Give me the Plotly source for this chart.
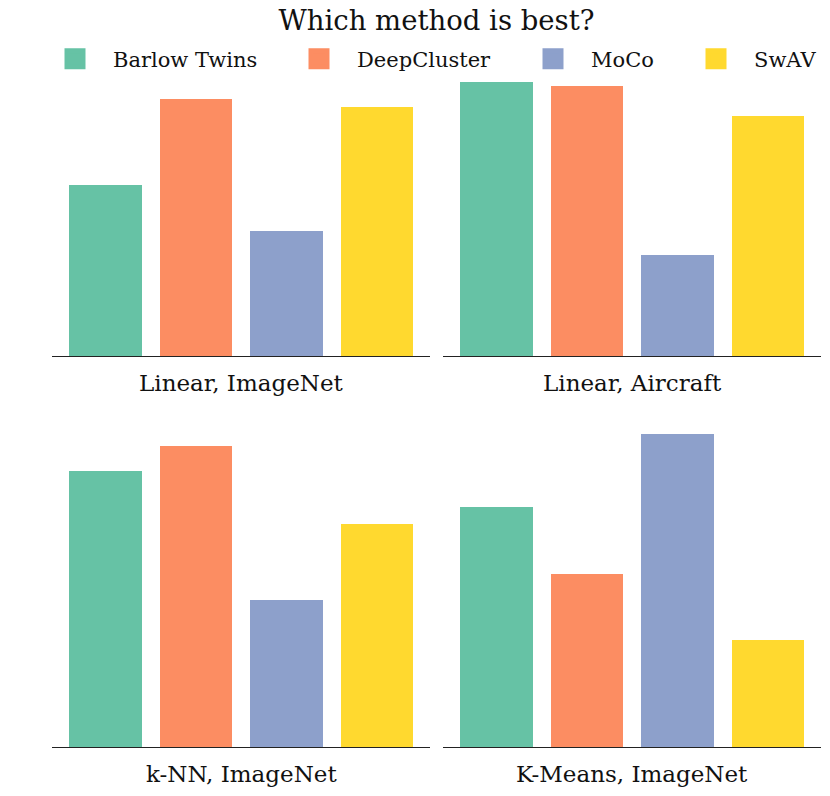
import plotly.graph_objects as go
from plotly.subplots import make_subplots

W, H = 830, 796

methods = ["Barlow Twins", "DeepCluster", "MoCo", "SwAV"]
colors = ["#66c2a5", "#fc8d62", "#8da0cb", "#ffd92f"]
panels = ["Linear, ImageNet", "Linear, Aircraft", "k-NN, ImageNet", "K-Means, ImageNet"]

# scores (arbitrary units, no y axis shown)
linear_imagenet = [171, 257, 125, 249]
linear_aircraft = [274, 270, 101, 240]
knn_imagenet = [276, 301, 147, 223]
kmeans_imagenet = [240, 173, 313, 107]
scores = [linear_imagenet, linear_aircraft, knn_imagenet, kmeans_imagenet]

FONT = "DejaVu Serif"

fig = make_subplots(rows=2, cols=2)

for k, vals in enumerate(scores):
    r, c = k // 2 + 1, k % 2 + 1
    fig.add_trace(go.Bar(x=list(range(len(methods))), y=vals, marker_color=colors,
                         marker_line_width=0, width=0.8, showlegend=False,
                         hoverinfo="y"), row=r, col=c)

# legend entries, one legend per method so they can be spaced like the original
leg_x = [37, 281, 515, 678]
for i, m in enumerate(methods):
    name = "legend" if i == 0 else "legend%d" % (i + 1)
    fig.add_trace(go.Scatter(x=[None], y=[None], mode="markers", name=m,
                             marker=dict(symbol="square", size=16, color=colors[i],
                                         line=dict(width=5, color=colors[i])),
                             legend=name, xaxis="x", yaxis="y"))
    fig.update_layout(**{name: dict(x=leg_x[i] / W, xanchor="left", y=1 - 59 / H,
                                    yanchor="middle", orientation="h", itemwidth=66,
                                    font=dict(family=FONT, size=21, color="#111"),
                                    bgcolor="rgba(0,0,0,0)")})

def px(a, b):
    return [a / W, b / W]

xdom = [px(52.1, 430.4), px(443.1, 821.4)]
ydom = [[1 - 356 / H, 1 - 68 / H], [1 - 747 / H, 1 - 417 / H]]
yr = [[0, 288], [0, 330]]

for k in range(4):
    r, c = k // 2, k % 2
    fig.update_xaxes(domain=xdom[c], range=[-0.59, 3.59], showticklabels=False,
                     ticks="", showgrid=False, zeroline=False, showline=True,
                     linecolor="#222", linewidth=1.3, row=r + 1, col=c + 1)
    fig.update_yaxes(domain=ydom[r], range=yr[r], visible=False, row=r + 1, col=c + 1)

label_y = [383, 774]
for k, t in enumerate(panels):
    r, c = k // 2, k % 2
    fig.add_annotation(text=t, x=sum(xdom[c]) / 2, y=1 - label_y[r] / H,
                       xref="paper", yref="paper", showarrow=False,
                       xanchor="center", yanchor="middle",
                       font=dict(family=FONT, size=23, color="#111"))

fig.update_layout(
    width=W, height=H,
    margin=dict(l=0, r=0, t=0, b=0),
    plot_bgcolor="white", paper_bgcolor="white",
    title=dict(text="Which method is best?", x=436.5 / W, xanchor="center",
               y=1 - 20 / H, yanchor="middle",
               font=dict(family=FONT, size=27.5, color="#111")),
    bargap=0,
)

fig.write_html("out.html", config={"displayModeBar": False},
               post_script="document.body.style.margin='0';")
